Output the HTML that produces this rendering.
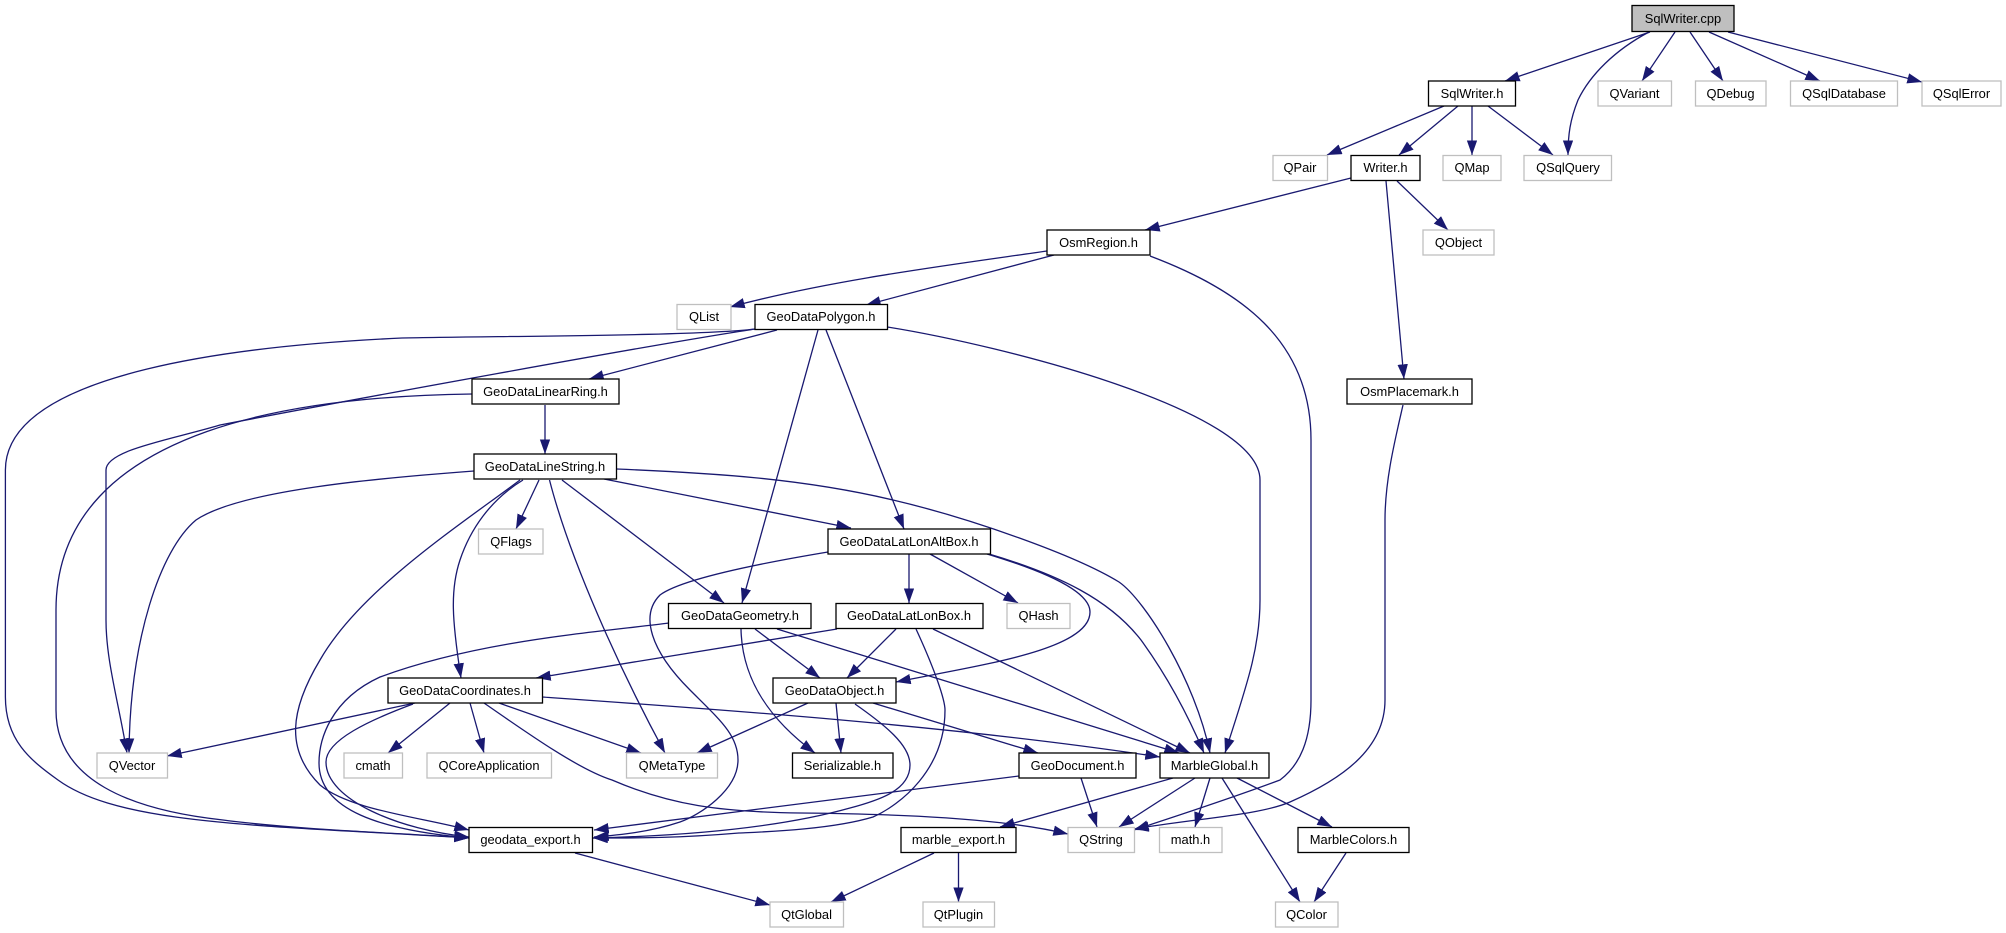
<!DOCTYPE html>
<html><head><meta charset="utf-8"><title>SqlWriter.cpp</title>
<style>html,body{margin:0;padding:0;background:#fff}svg{display:block}
text{font-family:"Liberation Sans",sans-serif;font-size:12.9px;fill:#000;text-anchor:middle}
.e path{fill:none;stroke:#191970;stroke-width:1.3;marker-end:url(#a)}
.k rect{fill:#fff;stroke:#000;stroke-width:1.3}
.g rect{fill:#fff;stroke:#bfbfbf;stroke-width:1.3}
</style></head><body>
<svg xmlns="http://www.w3.org/2000/svg" width="2006" height="933" viewBox="0 0 2006 933">
<defs><marker id="a" markerUnits="userSpaceOnUse" markerWidth="15" markerHeight="11" refX="14.700" refY="5.200" orient="auto"><polygon points="0,0 14.700,5.200 0,10.400" fill="#191970"/></marker></defs>
<g class="e">
<path d="M1650,32L1505,81"/>
<path d="M1649,32C1615,50 1590,75 1578,100C1570,120 1568,135 1568,155"/>
<path d="M1675,32L1642,81"/>
<path d="M1690,32L1723,81"/>
<path d="M1709,32L1820,81"/>
<path d="M1728,32L1922,82"/>
<path d="M1444,106L1327,155"/>
<path d="M1458,106L1399,155"/>
<path d="M1472,106L1472,155"/>
<path d="M1488,106L1553,155"/>
<path d="M1351,178L1145,230"/>
<path d="M1397,181L1448,230"/>
<path d="M1386,181L1404,379"/>
<path d="M1047,251C950,265 830,280 730,307"/>
<path d="M1054,255L866,305"/>
<path d="M1150,256C1240,290 1311,340 1311,440L1311,700C1311,740 1300,765 1280,780C1240,795 1180,815 1134,830"/>
<path d="M1403,405C1395,440 1385,480 1385,520L1385,700C1385,750 1340,780 1290,802C1260,815 1200,818 1134,829"/>
<path d="M777,330L589,379"/>
<path d="M755,329C700,336 500,336 402,338C250,345 5.4,370 5.4,470L5.4,697C5.4,740 30,760 58,780C120,825 260,825 469,838"/>
<path d="M755,329C650,345 350,400 220,425C170,440 106,450 106,470L106,620C106,660 118,700 127,753"/>
<path d="M472,394C320,396 56,420 56,610L56,710C56,780 130,810 223,820C300,830 400,833 469,838"/>
<path d="M545,405L545,454"/>
<path d="M474,471C380,478 240,490 196,520C160,550 130,640 129,753"/>
<path d="M604,479L851,528"/>
<path d="M616.500,469C710,473 800,478 893,500C970,518 1075,555 1119,582C1145,600 1195,680 1210,753"/>
<path d="M539,480L516,529"/>
<path d="M523,480C490,500 470,530 460,560C450,590 452,620 461,678"/>
<path d="M520,480C460,525 360,590 320,660C290,710 285,750 320,785C350,810 420,817 469,830"/>
<path d="M549.500,480C570,560 620,670 665,753"/>
<path d="M562,480L724,603"/>
<path d="M818,330L742,603"/>
<path d="M826,330L904,529"/>
<path d="M887.500,327C1000,345 1260,410 1260,480L1260,600C1260,650 1245,690 1225,753"/>
<path d="M828,552C750,565 680,580 660,595C640,615 650,650 690,690C720,720 738,735 738,760C738,790 700,815 680,822C650,832 620,835 594,837"/>
<path d="M909,554L909,603"/>
<path d="M930,554L1018,603"/>
<path d="M987,554C1040,570 1090,590 1090,612C1090,650 980,665 896,682"/>
<path d="M989,554C1060,575 1110,600 1141,640C1170,680 1190,720 1204,753"/>
<path d="M755,629L820,678"/>
<path d="M741,629C742,680 770,720 815,753"/>
<path d="M777,629L1179,753"/>
<path d="M669,623C600,632 480,640 380,677C330,700 319,740 319,763C319,810 380,830 469,838"/>
<path d="M837,629L536,678"/>
<path d="M896,629L847,678"/>
<path d="M933,629L1190,753"/>
<path d="M916,629C935,670 945,700 945,710C945,770 900,805 873,817C830,830 760,832 739,833C680,838 640,838 593,838"/>
<path d="M808,703L697,753"/>
<path d="M836,703L841,753"/>
<path d="M873,703L1038,753"/>
<path d="M855,704C885,725 910,745 910,765C910,790 880,800 850,808C800,822 720,835 593,838"/>
<path d="M1019,776L594,830"/>
<path d="M1081,778L1097,827"/>
<path d="M1173,778L1000,827"/>
<path d="M1195,778L1119,827"/>
<path d="M1210,778L1195,827"/>
<path d="M1222,778L1300,902"/>
<path d="M1237,778L1332,827"/>
<path d="M1346,853L1314,902"/>
<path d="M934,853L831,902"/>
<path d="M958.500,853L958.500,902"/>
<path d="M575,853L770,905"/>
<path d="M415,703L167,756"/>
<path d="M413,704C370,720 326,740 326,762C326,800 400,830 469,837"/>
<path d="M450,703L388,753"/>
<path d="M470,703L484,753"/>
<path d="M499,703L641,753"/>
<path d="M484,703C530,735 580,770 612,780C670,805 720,812 800,813C900,814 1000,818 1068,834"/>
<path d="M542,697C700,708 950,725 1160,757"/>
</g>
<g class="k">
<rect x="1632" y="5.500" width="102" height="26" style="fill:#bfbfbf"/><text x="1683" y="23">SqlWriter.cpp</text>
<rect x="1428.500" y="81" width="87" height="25"/><text x="1472" y="98">SqlWriter.h</text>
<rect x="1351" y="155.500" width="69" height="25"/><text x="1385.500" y="172">Writer.h</text>
<rect x="1047" y="230" width="103" height="25"/><text x="1098.500" y="247">OsmRegion.h</text>
<rect x="755" y="304.500" width="132.500" height="25"/><text x="821" y="321">GeoDataPolygon.h</text>
<rect x="1347" y="379" width="125" height="25"/><text x="1409.500" y="396">OsmPlacemark.h</text>
<rect x="472" y="379" width="147" height="25"/><text x="545.500" y="396">GeoDataLinearRing.h</text>
<rect x="474" y="454" width="142.500" height="25"/><text x="545" y="471">GeoDataLineString.h</text>
<rect x="828" y="529" width="162.500" height="25"/><text x="909" y="546">GeoDataLatLonAltBox.h</text>
<rect x="668.500" y="603.500" width="142.500" height="25"/><text x="740" y="620">GeoDataGeometry.h</text>
<rect x="836" y="603.500" width="147" height="25"/><text x="909" y="620">GeoDataLatLonBox.h</text>
<rect x="773" y="678" width="123" height="25"/><text x="834.500" y="695">GeoDataObject.h</text>
<rect x="388" y="678" width="154.500" height="25"/><text x="465" y="695">GeoDataCoordinates.h</text>
<rect x="792.500" y="753" width="100.500" height="25"/><text x="842.500" y="770">Serializable.h</text>
<rect x="1019" y="753" width="117" height="25"/><text x="1077.500" y="770">GeoDocument.h</text>
<rect x="1160" y="753" width="109" height="25"/><text x="1214.500" y="770">MarbleGlobal.h</text>
<rect x="469" y="827.500" width="123.500" height="25"/><text x="530.500" y="844">geodata_export.h</text>
<rect x="901" y="827.500" width="115" height="25"/><text x="958.500" y="844">marble_export.h</text>
<rect x="1298" y="827.500" width="111" height="25"/><text x="1353.500" y="844">MarbleColors.h</text>
</g>
<g class="g">
<rect x="1598" y="81" width="73.500" height="25"/><text x="1634.500" y="98">QVariant</text>
<rect x="1695.500" y="81" width="70.500" height="25"/><text x="1730.500" y="98">QDebug</text>
<rect x="1790.500" y="81" width="107" height="25"/><text x="1844" y="98">QSqlDatabase</text>
<rect x="1922" y="81" width="79" height="25"/><text x="1961.500" y="98">QSqlError</text>
<rect x="1273" y="155.500" width="54.500" height="25"/><text x="1300" y="172">QPair</text>
<rect x="1443" y="155.500" width="58" height="25"/><text x="1472" y="172">QMap</text>
<rect x="1524" y="155.500" width="87.500" height="25"/><text x="1568" y="172">QSqlQuery</text>
<rect x="1423" y="230" width="71" height="25"/><text x="1458.500" y="247">QObject</text>
<rect x="677" y="304.500" width="54" height="25"/><text x="704" y="321">QList</text>
<rect x="478.500" y="529" width="64.500" height="25"/><text x="511" y="546">QFlags</text>
<rect x="1007" y="603.500" width="63" height="25"/><text x="1038.500" y="620">QHash</text>
<rect x="97" y="753" width="70.500" height="25"/><text x="132" y="770">QVector</text>
<rect x="344" y="753" width="58.500" height="25"/><text x="373" y="770">cmath</text>
<rect x="427" y="753" width="124.500" height="25"/><text x="489" y="770">QCoreApplication</text>
<rect x="626.500" y="753" width="91" height="25"/><text x="672" y="770">QMetaType</text>
<rect x="1068" y="827.500" width="66.500" height="25"/><text x="1101" y="844">QString</text>
<rect x="1159.500" y="827.500" width="62.500" height="25"/><text x="1190.500" y="844">math.h</text>
<rect x="770" y="902" width="73.500" height="25"/><text x="806.500" y="919">QtGlobal</text>
<rect x="923" y="902" width="71.500" height="25"/><text x="958.500" y="919">QtPlugin</text>
<rect x="1275.500" y="902" width="62.500" height="25"/><text x="1306.500" y="919">QColor</text>
</g>
</svg>
</body></html>
